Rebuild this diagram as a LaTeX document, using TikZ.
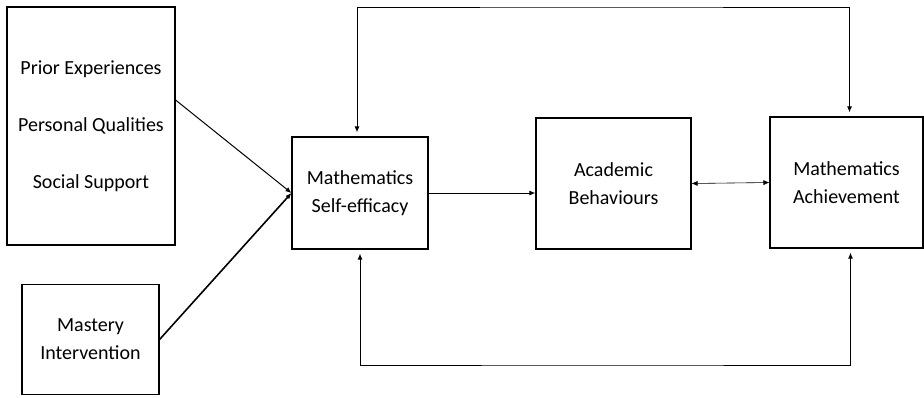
\documentclass[tikz,border=0pt]{standalone}
\usepackage{fontspec}
\setmainfont{Carlito}
\usetikzlibrary{calc,arrows.meta}
\tikzset{
	factorbox/.style={draw, line width=1.1pt, align=center, inner sep=0pt, font=\fontsize{20}{28}\selectfont},
	link/.style={line width=1pt, -{Latex[length=6pt,width=5pt]}},
}

\begin{document}
\begin{tikzpicture}[x=1pt, y=-1pt]
		%%%%% START %%%%%
		\useasboundingbox (0, 0) rectangle (924, 397);
		
		\node[factorbox, minimum width=168pt, minimum height=238pt, font=\fontsize{20}{57}\selectfont] (factors) at (91, 126) {Prior Experiences\\Personal Qualities\\Social Support};
		\node[factorbox, minimum width=137pt, minimum height=110pt] (mastery) at (90.5, 339.5) {Mastery\\Intervention};
		
		\node[factorbox, minimum width=136pt, minimum height=112pt] (efficacy) at (360, 193) {Mathematics\\Self-efficacy};
		\node[factorbox, minimum width=155pt, minimum height=131pt] (behaviour) at (613.5, 183.5) {Academic\\Behaviours};
		\node[factorbox, minimum width=153pt, minimum height=131pt] (achieve) at (846.5, 182.5) {Mathematics\\Achievement};
		
		\coordinate (top) at (600, 7);
		\coordinate (bottom) at (600, 365);
		
		\draw[link] ($(factors.east)+(0, -26)$) -- (efficacy.west);
		\draw[link, line width=1.6pt] (mastery.east) -- (efficacy.west);
		\draw[link] (efficacy.east) -- (efficacy.east -| behaviour.west);
		\draw[link, line width=0.6pt, {Latex[length=6pt,width=5pt]}-{Latex[length=6pt,width=5pt]}] (behaviour.east) -- (achieve.west);
		
		\draw[link, {Latex[length=6pt,width=5pt]}-{Latex[length=6pt,width=5pt]}, shorten <=4pt, shorten >=4pt] ($(efficacy.north)+(-3, 0)$) |- (top) -| ($(achieve.north)+(3, 0)$);
		\draw[link, {Latex[length=6pt,width=5pt]}-{Latex[length=6pt,width=5pt]}, shorten <=4pt, shorten >=4pt] (efficacy.south) |- (bottom) -| ($(achieve.south)+(4, 0)$);
		
		%%%%% END %%%%%
\end{tikzpicture}
\end{document}
